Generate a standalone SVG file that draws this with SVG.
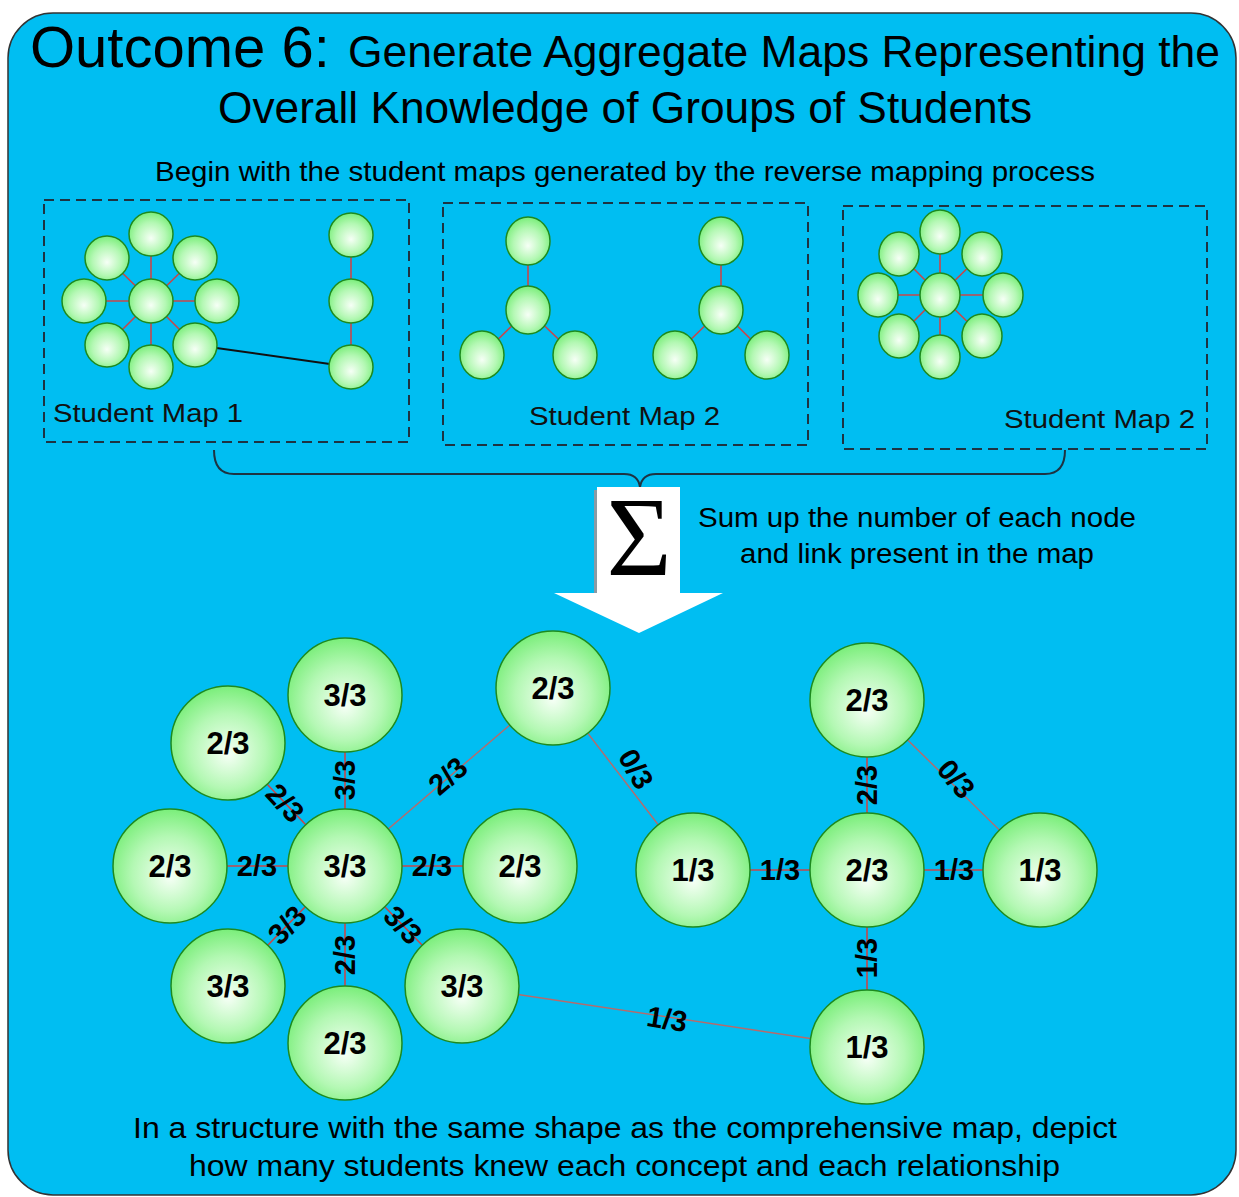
<svg xmlns="http://www.w3.org/2000/svg" width="1239" height="1197" viewBox="0 0 1239 1197">
<defs>
<radialGradient id="ng" cx="50%" cy="55%" r="55%" fx="50%" fy="60%">
<stop offset="0" stop-color="#f6fff6"/>
<stop offset="0.6" stop-color="#b4f8b4"/>
<stop offset="1" stop-color="#7aee7a"/>
</radialGradient>
<style>
.bg{fill:#00bef2;stroke:#333;stroke-width:1.5}
.t{font-family:"Liberation Sans",Arial,sans-serif;fill:#000}
.dash{fill:none;stroke:#1e3342;stroke-width:2;stroke-dasharray:10 6}
.n{fill:url(#ng);stroke:#1e8a1e;stroke-width:1.5}
.e{stroke:#c8464a;stroke-width:1.6;fill:none}
.eg{stroke:#b86a6a;stroke-width:1.4;fill:none}
.nl{font-family:"Liberation Sans",Arial,sans-serif;font-weight:bold;font-size:31px;text-anchor:middle;fill:#000}
.el{font-family:"Liberation Sans",Arial,sans-serif;font-weight:bold;font-size:29px;text-anchor:middle;fill:#000}
.lab{font-family:"Liberation Sans",Arial,sans-serif;font-size:26px;fill:#111}
</style>
</defs>
<rect class="bg" x="8" y="13" width="1228" height="1182" rx="45" ry="45"/>

<g id="title">
<text class="t" x="30" y="67" font-size="58">Outcome 6:</text>
<text class="t" x="348" y="67" font-size="44" textLength="872" lengthAdjust="spacingAndGlyphs">Generate Aggregate Maps Representing the</text>
<text class="t" x="218" y="123" font-size="44" textLength="814" lengthAdjust="spacingAndGlyphs">Overall Knowledge of Groups of Students</text>
<text class="t" x="155" y="181" font-size="28" textLength="940" lengthAdjust="spacingAndGlyphs">Begin with the student maps generated by the reverse mapping process</text>
</g>

<g id="map1">
<rect class="dash" x="44" y="200" width="365" height="242"/>
<g class="e">
<line x1="151" y1="301" x2="151" y2="234"/><line x1="151" y1="301" x2="107" y2="258"/><line x1="151" y1="301" x2="195" y2="258"/>
<line x1="151" y1="301" x2="84" y2="301"/><line x1="151" y1="301" x2="217" y2="301"/><line x1="151" y1="301" x2="107" y2="345"/>
<line x1="151" y1="301" x2="151" y2="367"/><line x1="151" y1="301" x2="195" y2="345"/>
<line x1="351" y1="235" x2="351" y2="367"/>
</g>
<line x1="195" y1="345" x2="351" y2="367" stroke="#111" stroke-width="2"/>
<circle class="n" cx="151" cy="234" r="22"/><circle class="n" cx="107" cy="258" r="22"/><circle class="n" cx="195" cy="258" r="22"/>
<circle class="n" cx="84" cy="301" r="22"/><circle class="n" cx="151" cy="301" r="22"/><circle class="n" cx="217" cy="301" r="22"/>
<circle class="n" cx="107" cy="345" r="22"/><circle class="n" cx="151" cy="367" r="22"/><circle class="n" cx="195" cy="345" r="22"/>
<circle class="n" cx="351" cy="235" r="22"/><circle class="n" cx="351" cy="301" r="22"/><circle class="n" cx="351" cy="367" r="22"/>
<text class="lab" x="53" y="422" textLength="190" lengthAdjust="spacingAndGlyphs">Student Map 1</text>
</g>

<g id="map2">
<rect class="dash" x="443" y="203" width="365" height="242"/>
<g class="e">
<line x1="528" y1="241" x2="528" y2="310"/><line x1="528" y1="310" x2="482" y2="355"/><line x1="528" y1="310" x2="575" y2="355"/>
<line x1="721" y1="241" x2="721" y2="310"/><line x1="721" y1="310" x2="675" y2="355"/><line x1="721" y1="310" x2="767" y2="355"/>
</g>
<ellipse class="n" cx="528" cy="241" rx="22" ry="24"/><ellipse class="n" cx="528" cy="310" rx="22" ry="24"/>
<ellipse class="n" cx="482" cy="355" rx="22" ry="24"/><ellipse class="n" cx="575" cy="355" rx="22" ry="24"/>
<ellipse class="n" cx="721" cy="241" rx="22" ry="24"/><ellipse class="n" cx="721" cy="310" rx="22" ry="24"/>
<ellipse class="n" cx="675" cy="355" rx="22" ry="24"/><ellipse class="n" cx="767" cy="355" rx="22" ry="24"/>
<text class="lab" x="529" y="425" textLength="191" lengthAdjust="spacingAndGlyphs">Student Map 2</text>
</g>

<g id="map3">
<rect class="dash" x="843" y="206" width="364" height="243"/>
<g class="e">
<line x1="940" y1="295" x2="940" y2="232"/><line x1="940" y1="295" x2="899" y2="254"/><line x1="940" y1="295" x2="982" y2="254"/>
<line x1="940" y1="295" x2="878" y2="295"/><line x1="940" y1="295" x2="1003" y2="295"/><line x1="940" y1="295" x2="899" y2="336"/>
<line x1="940" y1="295" x2="940" y2="357"/><line x1="940" y1="295" x2="982" y2="336"/>
</g>
<ellipse class="n" cx="940" cy="232" rx="20" ry="22"/><ellipse class="n" cx="899" cy="254" rx="20" ry="22"/><ellipse class="n" cx="982" cy="254" rx="20" ry="22"/>
<ellipse class="n" cx="878" cy="295" rx="20" ry="22"/><ellipse class="n" cx="940" cy="295" rx="20" ry="22"/><ellipse class="n" cx="1003" cy="295" rx="20" ry="22"/>
<ellipse class="n" cx="899" cy="336" rx="20" ry="22"/><ellipse class="n" cx="940" cy="357" rx="20" ry="22"/><ellipse class="n" cx="982" cy="336" rx="20" ry="22"/>
<text class="lab" x="1004" y="428" textLength="191" lengthAdjust="spacingAndGlyphs">Student Map 2</text>
</g>

<g id="brace">
<path d="M214,450 Q214,474 234,474 L624,474 Q638,474 640,487 Q642,474 656,474 L1045,474 Q1065,474 1065,450" fill="none" stroke="#1e3342" stroke-width="2"/>
</g>

<g id="sum-arrow">
<rect x="594" y="490" width="4" height="103" fill="#8a9aa4"/>
<polygon points="597,487 680,487 680,593 723,593 639,633 554,593 597,593" fill="#fff"/>
<text x="639" y="575" font-family="Liberation Serif,serif" font-size="112" text-anchor="middle" fill="#000">Σ</text>
<text class="t" x="698" y="527" font-size="27" textLength="438" lengthAdjust="spacingAndGlyphs">Sum up the number of each node</text>
<text class="t" x="740" y="563" font-size="27" textLength="354" lengthAdjust="spacingAndGlyphs">and link present in the map</text>
</g>

<g id="connectors">
<line class="e" x1="345" y1="866" x2="345" y2="695"/>
<line class="e" x1="345" y1="866" x2="228" y2="743"/>
<line class="e" x1="345" y1="866" x2="170" y2="866"/>
<line class="e" x1="345" y1="866" x2="520" y2="866"/>
<line class="e" x1="345" y1="866" x2="228" y2="986"/>
<line class="e" x1="345" y1="866" x2="345" y2="1042"/>
<line class="e" x1="345" y1="866" x2="462" y2="986"/>
<line class="eg" x1="345" y1="866" x2="553" y2="688"/>
<line class="eg" x1="553" y1="688" x2="693" y2="870"/>
<line class="eg" x1="462" y1="986" x2="867" y2="1047"/>
<line class="e" x1="867" y1="700" x2="867" y2="870"/>
<line class="eg" x1="867" y1="700" x2="1040" y2="870"/>
<line class="e" x1="693" y1="870" x2="1040" y2="870"/>
<line class="e" x1="867" y1="870" x2="867" y2="1047"/>
</g>

<g id="nodes">
<g id="n-hub"><circle class="n" cx="345" cy="866" r="57"/><text class="nl" x="345" y="877">3/3</text></g>
<g id="n-top"><circle class="n" cx="345" cy="695" r="57"/><text class="nl" x="345" y="706">3/3</text></g>
<g id="n-topleft"><circle class="n" cx="228" cy="743" r="57"/><text class="nl" x="228" y="754">2/3</text></g>
<g id="n-left"><circle class="n" cx="170" cy="866" r="57"/><text class="nl" x="170" y="877">2/3</text></g>
<g id="n-right"><circle class="n" cx="520" cy="866" r="57"/><text class="nl" x="520" y="877">2/3</text></g>
<g id="n-botleft"><circle class="n" cx="228" cy="986" r="57"/><text class="nl" x="228" y="997">3/3</text></g>
<g id="n-bottom"><circle class="n" cx="345" cy="1043" r="57"/><text class="nl" x="345" y="1054">2/3</text></g>
<g id="n-botright"><circle class="n" cx="462" cy="986" r="57"/><text class="nl" x="462" y="997">3/3</text></g>
<g id="n-upper"><circle class="n" cx="553" cy="688" r="57"/><text class="nl" x="553" y="699">2/3</text></g>
<g id="n-rtop"><circle class="n" cx="867" cy="700" r="57"/><text class="nl" x="867" y="711">2/3</text></g>
<g id="n-rleft"><circle class="n" cx="693" cy="870" r="57"/><text class="nl" x="693" y="881">1/3</text></g>
<g id="n-rcenter"><circle class="n" cx="867" cy="870" r="57"/><text class="nl" x="867" y="881">2/3</text></g>
<g id="n-rright"><circle class="n" cx="1040" cy="870" r="57"/><text class="nl" x="1040" y="881">1/3</text></g>
<g id="n-rbottom"><circle class="n" cx="867" cy="1047" r="57"/><text class="nl" x="867" y="1058">1/3</text></g>
</g>

<g id="edge-labels">
<text class="el" transform="translate(345,780) rotate(-90)" y="10">3/3</text>
<text class="el" transform="translate(285,803) rotate(47)" y="10">2/3</text>
<text class="el" x="257" y="876">2/3</text>
<text class="el" x="432" y="876">2/3</text>
<text class="el" transform="translate(287,925) rotate(-46)" y="10">3/3</text>
<text class="el" transform="translate(345,955) rotate(-90)" y="10">2/3</text>
<text class="el" transform="translate(403,925) rotate(46)" y="10">3/3</text>
<text class="el" transform="translate(448,776) rotate(-41)" y="10">2/3</text>
<text class="el" transform="translate(636,769) rotate(60)" y="10">0/3</text>
<text class="el" transform="translate(667,1019) rotate(9)" y="10">1/3</text>
<text class="el" transform="translate(867,785) rotate(-90)" y="10">2/3</text>
<text class="el" transform="translate(956,779) rotate(50)" y="10">0/3</text>
<text class="el" x="780" y="880">1/3</text>
<text class="el" x="954" y="880">1/3</text>
<text class="el" transform="translate(867,958) rotate(-90)" y="10">1/3</text>
</g>

<g id="footer">
<text class="t" x="133" y="1138" font-size="30" textLength="984" lengthAdjust="spacingAndGlyphs">In a structure with the same shape as the comprehensive map, depict</text>
<text class="t" x="189" y="1176" font-size="30" textLength="871" lengthAdjust="spacingAndGlyphs">how many students knew each concept and each relationship</text>
</g>
</svg>
